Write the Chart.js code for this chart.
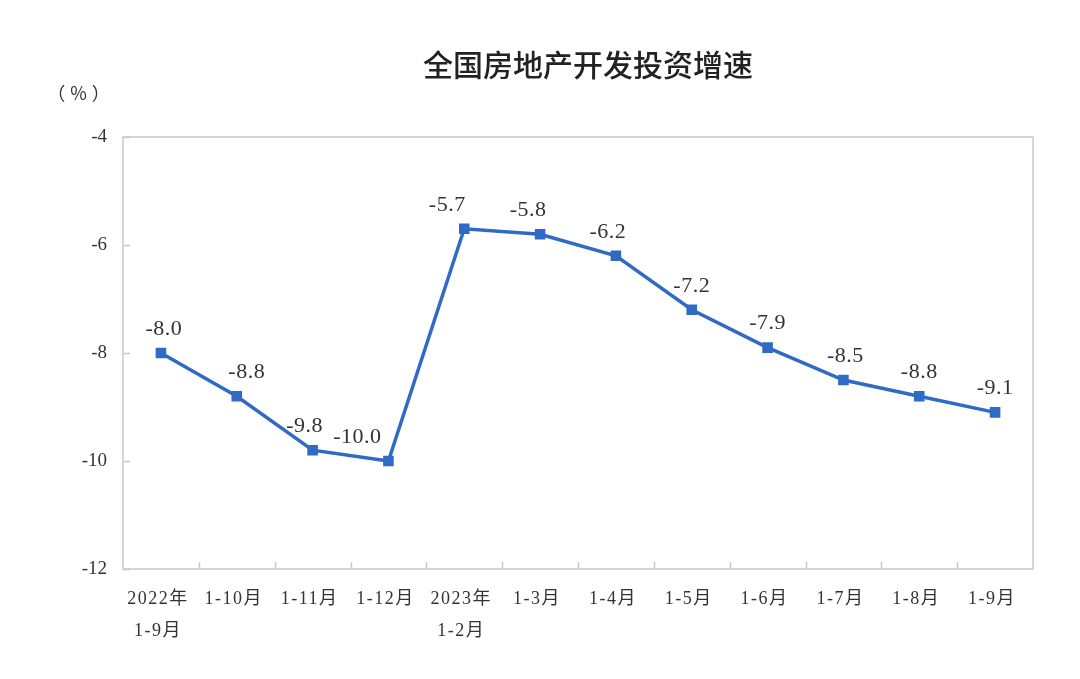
<!DOCTYPE html>
<html>
<head>
<meta charset="utf-8">
<script src="https://cdn.jsdelivr.net/npm/chart.js@4"></script>
<style>
  html, body { margin: 0; padding: 0; background: #fff; }
  #wrap { width: 1080px; height: 679px; position: relative; }
</style>
</head>
<body>
<div id="wrap"><canvas id="myChart" width="1080" height="679"></canvas></div>
<script>
// categorias del eje X (multilinea donde hace falta)
const categorias = [
  ["2022年", "1-9月"], "1-10月", "1-11月", "1-12月", ["2023年", "1-2月"],
  "1-3月", "1-4月", "1-5月", "1-6月", "1-7月", "1-8月", "1-9月"
];
// valores de la serie (%)
const valores = [-8.0, -8.8, -9.8, -10.0, -5.7, -5.8, -6.2, -7.2, -7.9, -8.5, -8.8, -9.1];
const ticksY = [-4, -6, -8, -10, -12];

const titulo = "全国房地产开发投资增速";
const unidad = "（%）";

const serif = '"Liberation Serif", "Noto Sans CJK SC", serif';
const azul = "#2f6bc4";
const gris = "#c8c8c8";
const texto = "#333333";

// desplazamiento horizontal de cada etiqueta, como en el original
const despLabel = [3, 10, -8, -31, -17, -12, -8, 0, 0, 2, 0, 0];

// plugin: titulo, unidad, marco, ticks interiores, etiquetas del eje X y de datos
const extras = {
  id: "extras",
  afterDraw(chart) {
    const ctx = chart.ctx;
    const a = chart.chartArea;
    const x = chart.scales.x, y = chart.scales.y;
    ctx.save();
    // titulo
    ctx.fillStyle = "#222";
    ctx.font = '500 30px "Noto Sans CJK SC"';
    ctx.textAlign = "center";
    ctx.textBaseline = "middle";
    ctx.fillText(titulo, 588, 65);
    // unidad
    ctx.font = '18px "Noto Sans CJK SC"';
    ctx.fillStyle = texto;
    ctx.letterSpacing = "5px";
    ctx.fillText(unidad, 81, 93);
    // marco
    ctx.strokeStyle = gris;
    ctx.lineWidth = 1.5;
    ctx.strokeRect(a.left, a.top, a.right - a.left, a.bottom - a.top);
    // ticks eje Y hacia dentro
    ticksY.forEach(v => {
      const py = Math.round(y.getPixelForValue(v)) + 0.5;
      ctx.beginPath();
      ctx.moveTo(a.left, py);
      ctx.lineTo(a.left + 7, py);
      ctx.stroke();
    });
    // ticks eje X hacia dentro, entre categorias
    const paso = (a.right - a.left) / categorias.length;
    for (let i = 1; i < categorias.length; i++) {
      const px = Math.round(a.left + paso * i) + 0.5;
      ctx.beginPath();
      ctx.moveTo(px, a.bottom);
      ctx.lineTo(px, a.bottom - 7);
      ctx.stroke();
    }
    // etiquetas del eje X
    ctx.fillStyle = texto;
    ctx.font = "18px " + serif;
    ctx.letterSpacing = "1.5px";
    ctx.textAlign = "center";
    ctx.textBaseline = "middle";
    categorias.forEach((c, i) => {
      const px = x.getPixelForValue(i) - 3;
      const lineas = Array.isArray(c) ? c : [c];
      lineas.forEach((t, j) => ctx.fillText(t, px, a.bottom + 30 + j * 32));
    });
    // etiquetas de datos
    ctx.font = "22px " + serif;
    ctx.letterSpacing = "0.5px";
    ctx.textBaseline = "bottom";
    const meta = chart.getDatasetMeta(0);
    meta.data.forEach((pt, i) => {
      ctx.fillText(valores[i].toFixed(1), pt.x + despLabel[i], pt.y - 13);
    });
    ctx.restore();
  }
};

const config = {
  type: "line",
  data: {
    labels: categorias,
    datasets: [{
      data: valores,
      borderColor: azul,
      backgroundColor: azul,
      borderWidth: 3.5,
      pointStyle: "rect",
      pointRadius: 5,
      pointHoverRadius: 5,
      tension: 0
    }]
  },
  options: {
    responsive: false,
    animation: false,
    layout: { padding: { left: 0, top: 137, right: 47, bottom: 0 } },
    plugins: { legend: { display: false }, tooltip: { enabled: false }, title: { display: false } },
    scales: {
      x: {
        offset: true,
        grid: { display: false, drawTicks: false },
        border: { display: false },
        ticks: { display: false },
        afterFit: s => { s.height = 110; }
      },
      y: {
        min: -12,
        max: -4,
        afterBuildTicks: s => { s.ticks = ticksY.map(v => ({ value: v })); },
        grid: { display: false, drawTicks: false },
        border: { display: false },
        ticks: {
          color: texto,
          font: { family: serif, size: 19 },
          padding: 16,
          callback: v => v
        },
        afterFit: s => { s.width = 123; }
      }
    }
  },
  plugins: [extras]
};

const myChart = new Chart(document.getElementById("myChart"), config);
</script>
</body>
</html>
